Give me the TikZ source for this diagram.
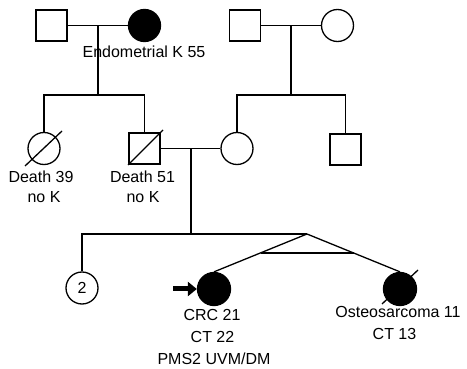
\documentclass[tikz,border=0pt]{standalone}
\usepackage{fontspec}
\setmainfont{Liberation Sans}
\usetikzlibrary{arrows.meta,calc}
\begin{document}
\begin{tikzpicture}[x=1pt,y=-1pt,
  line width=1.3pt,
  male/.style={draw,rectangle,minimum size=31pt,inner sep=0pt,fill=white},
  female/.style={draw,circle,minimum size=32pt,inner sep=0pt,fill=white},
  affected/.style={fill=black},
  lbl/.style={anchor=base,inner sep=0pt,font=\fontsize{16}{19}\selectfont},
  rel/.style={line width=1.3pt}]
\useasboundingbox (0,0) rectangle (467,369);
% Generation I
\node[male] (g1a) at (51.5,25.5) {};
\node[female,affected] (g1b) at (144.5,25.5) {};
\node[male] (g1c) at (245,25.5) {};
\node[female] (g1d) at (337.5,25.5) {};
% Generation II
\node[female] (d39) at (44,148.5) {};
\node[male] (d51) at (144.5,148.5) {};
\node[female] (w) at (237,148.5) {};
\node[male] (s4) at (345.5,149.5) {};
% Generation III
\node[female,font=\fontsize{16}{19}\selectfont] (two) at (82,288) {2};
\node[female,affected,minimum size=33pt] (pro) at (214,289) {};
\node[female,affected,minimum size=33pt] (ost) at (400,289) {};
% coordinates
\coordinate (m1) at (98,25.5);
\coordinate (s1) at (98,95);
\coordinate (s1l) at (44,95);
\coordinate (s1r) at (144.5,95);
\coordinate (m2) at (291,25.5);
\coordinate (s2) at (291,95);
\coordinate (s2l) at (237,95);
\coordinate (s2r) at (345.5,95);
\coordinate (m3) at (191,148.5);
\coordinate (s3) at (191,234);
\coordinate (s3l) at (82,234);
\coordinate (apex) at (307,234);
% lines gen I
\draw[rel] (g1a.east) -- (g1b.west);
\draw[rel] (m1) -- (s1);
\draw[rel] (d39.north) -- (s1l) -- (s1r) -- (d51.north);
\draw[rel] (g1c.east) -- (g1d.west);
\draw[rel] (m2) -- (s2);
\draw[rel] (w.north) -- (s2l) -- (s2r) -- (s4.north);
% gen II marriage
\draw[rel] (d51.east) -- (w.west);
\draw[rel] (m3) -- (s3);
\draw[rel] (two.north) -- (s3l) -- (apex);
\draw[rel] (pro.north) -- (apex) -- (ost.north);
\draw[rel] ($(apex)!0.5!(pro.north)$) -- ($(apex)!0.5!(ost.north)$);
% deceased marks
\coordinate (d39a) at (25,166); \coordinate (d39b) at (62,131);
\draw[rel] (d39a) -- (d39b);
\coordinate (d51a) at (128,165); \coordinate (d51b) at (163,130);
\draw[rel] (d51a) -- (d51b);
\coordinate (osta) at (382,304); \coordinate (ostb) at (418,270);
\draw[rel] (osta) -- (ostb);
% proband arrow
\coordinate (arr) at (173,289);
\draw[line width=5pt,-{Triangle[length=9pt,width=14pt]}] (arr) -- (pro.west);
% labels
\node[lbl] (t1) at (144,58) {Endometrial K 55};
\node[lbl] (t2) at (41,182.5) {Death 39};
\node[lbl] (t3) at (44,203) {no K};
\node[lbl] (t4) at (142.5,182.5) {Death 51};
\node[lbl] (t5) at (143,203) {no K};
\node[lbl] (t6) at (212,320.5) {CRC 21};
\node[lbl] (t7) at (212.5,342.5) {CT 22};
\node[lbl] (t8) at (214,365) {PMS2 UVM/DM};
\node[lbl] (t9) at (398,318) {Osteosarcoma 11};
\node[lbl] (t10) at (394.5,340) {CT 13};
\end{tikzpicture}
\end{document}
